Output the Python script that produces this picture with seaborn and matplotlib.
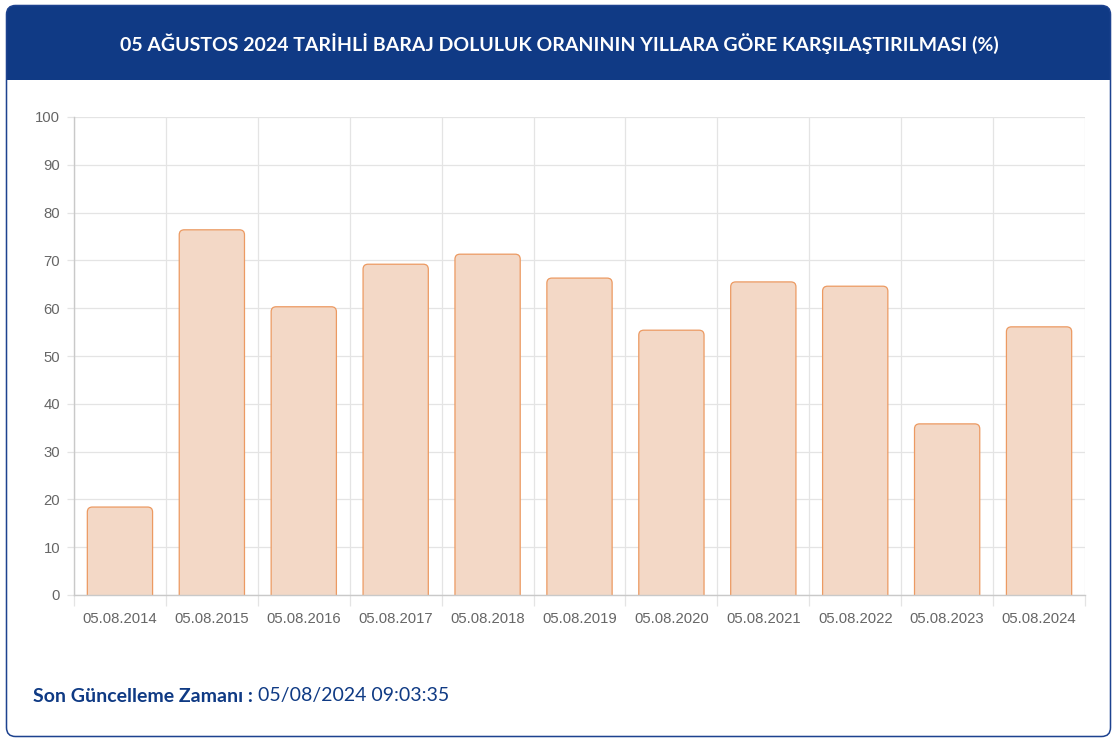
import matplotlib
matplotlib.use("Agg")
import matplotlib.pyplot as plt
from matplotlib.patches import FancyBboxPatch, Rectangle
import seaborn as sns
import pandas as pd

# ---- data ----
dates = ["05.08.2014", "05.08.2015", "05.08.2016", "05.08.2017", "05.08.2018",
         "05.08.2019", "05.08.2020", "05.08.2021", "05.08.2022", "05.08.2023",
         "05.08.2024"]
rates = [18.4, 76.4, 60.3, 69.2, 71.3, 66.3, 55.4, 65.5, 64.6, 35.8, 56.1]
y_ticks = [0, 10, 20, 30, 40, 50, 60, 70, 80, 90, 100]
title = "05 AĞUSTOS 2024 TARİHLİ BARAJ DOLULUK ORANININ YILLARA GÖRE KARŞILAŞTIRILMASI (%)"
footer_label = "Son Güncelleme Zamanı :"
footer_value = " 05/08/2024 09:03:35"

df = pd.DataFrame({"date": dates, "rate": rates})

sns.set_theme(style="white")
plt.rcParams["font.family"] = ["Liberation Sans", "DejaVu Sans"]

W, H = 1120, 743
fig = plt.figure(figsize=(W / 100, H / 100), dpi=100)
fig.patch.set_facecolor("white")

# ---- background card (pixel coordinates) ----
bg = fig.add_axes([0, 0, 1, 1], zorder=-1)
bg.set_xlim(0, W)
bg.set_ylim(H, 0)
bg.axis("off")
navy = "#103a85"
bg.add_patch(FancyBboxPatch((6.5, 5.5), 1104, 731, boxstyle="round,pad=0,rounding_size=9",
                            facecolor="white", edgecolor="none", zorder=0))
bg.add_patch(FancyBboxPatch((6.5, 5.5), 1104, 90, boxstyle="round,pad=0,rounding_size=9",
                            facecolor=navy, edgecolor="none", zorder=1))
bg.add_patch(Rectangle((7, 80), 1103, 20, facecolor="white", edgecolor="none", zorder=2))
bg.add_patch(FancyBboxPatch((6.5, 5.5), 1104, 731, boxstyle="round,pad=0,rounding_size=9",
                            facecolor="none", edgecolor="#1d428f", linewidth=1.1, zorder=3))
bg.text(559, 44, title, color="white", fontsize=14.0, fontweight="bold",
        family=["Lato", "DejaVu Sans"], ha="center", va="center", zorder=4)

# ---- chart ----
ax = fig.add_axes([74 / W, 1 - 595 / H, (1085 - 74) / W, (595 - 117) / H])
sns.barplot(data=df, x="date", y="rate", ax=ax, color="#f3d8c6", width=0.71,
            saturation=1, edgecolor="#ec9b63", linewidth=0.9)

fill = "#f3d8c6"
edge = "#ec9a62"
# replace bars with top-rounded versions
ppx = (1085 - 74) / 11.0       # pixels per x unit
ppy = (595 - 117) / 100.0      # pixels per y unit
r_px = 5
for p in list(ax.patches):
    x0, w, h = p.get_x(), p.get_width(), p.get_height()
    p.remove()
    rb = FancyBboxPatch((x0, -3), w, h + 3,
                        boxstyle=f"round,pad=0,rounding_size={r_px / ppx}",
                        mutation_aspect=ppx / ppy,
                        facecolor=fill, edgecolor=edge, linewidth=0.9, zorder=2)
    ax.add_patch(rb)

ax.set_xlim(-0.5, len(dates) - 0.5)
ax.set_ylim(0, 100)
ax.set_yticks(y_ticks)
ax.set_xlabel("")
ax.set_ylabel("")

grid_c = "#e4e4e4"
ax.set_xticks([i + 0.5 for i in range(-1, len(dates))], minor=True)
ax.grid(True, which="major", axis="y", color=grid_c, linewidth=0.9, zorder=0)
ax.grid(True, which="minor", axis="x", color=grid_c, linewidth=0.9, zorder=0)
ax.grid(False, which="major", axis="x")
ax.set_axisbelow(True)

for s in ["top", "right"]:
    ax.spines[s].set_visible(False)
for s in ["left", "bottom"]:
    ax.spines[s].set_color("#c9c9c9")
    ax.spines[s].set_linewidth(1.0)

ax.tick_params(axis="y", which="major", length=5, width=0.9, color=grid_c,
               labelsize=10.7, labelcolor="#666666", pad=5, left=True)
ax.tick_params(axis="x", which="major", length=0, labelsize=10.7,
               labelcolor="#666666", pad=12, bottom=True)
ax.tick_params(axis="x", which="minor", length=8, width=0.9, color=grid_c, bottom=True)

# ---- footer ----
renderer = fig.canvas.get_renderer()
t1 = fig.text(33 / W, 1 - 696 / H, footer_label, color="#0f3a84", fontsize=14.0,
              fontweight="bold", family=["Lato", "DejaVu Sans"], ha="left", va="center")
bb = t1.get_window_extent(renderer=renderer)
fig.text(bb.x1 / W, 1 - 696 / H, footer_value, color="#0f3a84", fontsize=14.0,
         family=["Lato", "DejaVu Sans"], ha="left", va="center")

fig.savefig("out.png", dpi=100)
